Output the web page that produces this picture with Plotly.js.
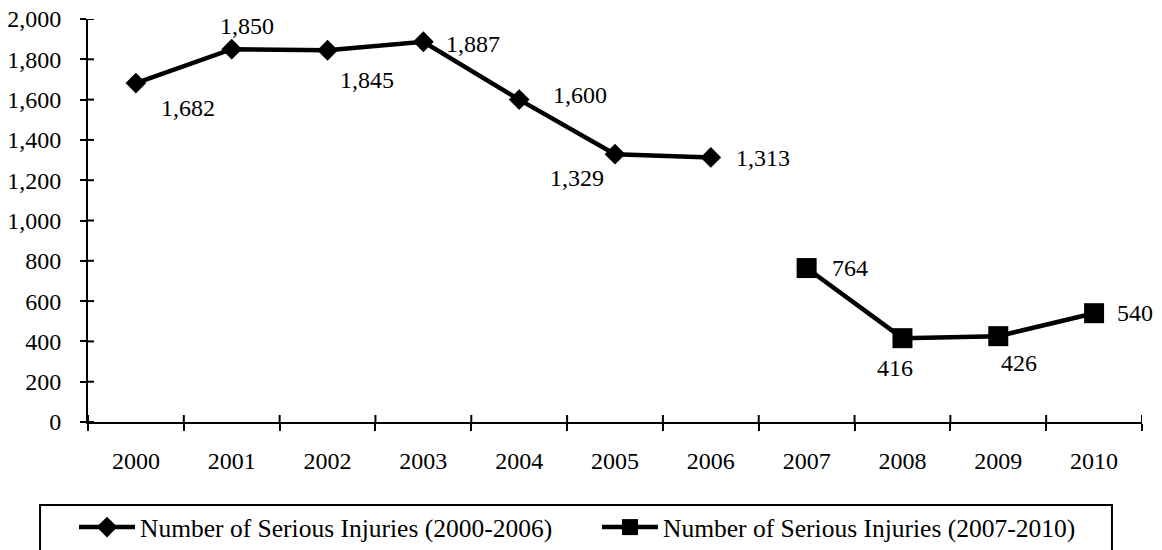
<!DOCTYPE html>
<html>
<head>
<meta charset="utf-8">
<script src="https://cdn.plot.ly/plotly-3.0.1.min.js"></script>
<style>html,body{margin:0;padding:0;background:#fff;}#chart{width:1162px;height:550px;}</style>
</head>
<body>
<div id="chart"></div>
<script>
const years = ['2000','2001','2002','2003','2004','2005','2006','2007','2008','2009','2010'];
const years1 = ['2000','2001','2002','2003','2004','2005','2006'];
const injuries1 = [1682, 1850, 1845, 1887, 1600, 1329, 1313];
const years2 = ['2007','2008','2009','2010'];
const injuries2 = [764, 416, 426, 540];
const name1 = 'Number of Serious Injuries (2000-2006)';
const name2 = 'Number of Serious Injuries (2007-2010)';
const yTicks = [0,200,400,600,800,1000,1200,1400,1600,1800,2000];

// label offsets (px) relative to each marker: [dx, dy(down)]
const offs1 = [[52,25],[15,-23],[39,30],[50,2],[61,-5],[-38,24],[52,1]];
const offs2 = [[43,0],[-7,30],[21,27],[41,0]];

const FONT = 'Liberation Serif, Times New Roman, serif';
const FS = 24;
const fmt = v => v.toLocaleString('en-US');

const traces = [
  {x: years1, y: injuries1, name: name1, type: 'scatter', mode: 'lines+markers',
   line: {color: '#000', width: 4.5}, marker: {symbol: 'diamond', size: 16, color: '#000'}},
  {x: years2, y: injuries2, name: name2, type: 'scatter', mode: 'lines+markers',
   line: {color: '#000', width: 4.5}, marker: {symbol: 'square', size: 20, color: '#000'}}
];

const annotations = [];
years1.forEach((yr, i) => annotations.push({x: years.indexOf(yr), y: injuries1[i], xref: 'x', yref: 'y', text: fmt(injuries1[i]), showarrow: false,
  xanchor: 'center', yanchor: 'middle', xshift: offs1[i][0], yshift: -offs1[i][1]}));
years2.forEach((yr, i) => annotations.push({x: years.indexOf(yr), y: injuries2[i], xref: 'x', yref: 'y', text: fmt(injuries2[i]), showarrow: false,
  xanchor: 'center', yanchor: 'middle', xshift: offs2[i][0], yshift: -offs2[i][1]}));

// inward halves of the crossing tick marks
const shapes = [];
for (let b = 0; b <= years.length; b++) {
  shapes.push({type: 'line', xref: 'x', yref: 'y', x0: b - 0.5, x1: b - 0.5,
    ysizemode: 'pixel', yanchor: 0, y0: 0, y1: 7, line: {color: '#000', width: 2}});
}
yTicks.forEach(v => shapes.push({type: 'line', xref: 'x', yref: 'y', y0: v, y1: v,
  xsizemode: 'pixel', xanchor: -0.5, x0: 0, x1: 6, line: {color: '#000', width: 2}}));
// legend frame
shapes.push({type: 'rect', xref: 'paper', yref: 'paper', x0: -0.0455, x1: 0.9715, y0: -0.206, y1: -0.33,
  line: {color: '#000', width: 2}, fillcolor: 'rgba(0,0,0,0)'});

const layout = {
  width: 1162, height: 550,
  margin: {l: 88, r: 20, t: 19, b: 128},
  paper_bgcolor: '#fff', plot_bgcolor: '#fff',
  font: {family: FONT, size: FS, color: '#000'},
  showlegend: true,
  xaxis: {type: 'category', categoryarray: years, categoryorder: 'array', range: [-0.5, 10.5],
    showline: true, linecolor: '#000', linewidth: 2, showgrid: false, zeroline: false,
    ticks: 'outside', tickson: 'boundaries', ticklen: 7, tickwidth: 2, tickcolor: '#000',
    ticklabelstandoff: 16, tickfont: {family: FONT, size: FS, color: '#000'}, fixedrange: true},
  yaxis: {range: [0, 2000], tickvals: yTicks, tickformat: ',d',
    showline: true, linecolor: '#000', linewidth: 2, showgrid: false, zeroline: false,
    ticks: 'outside', ticklen: 6, tickwidth: 2, tickcolor: '#000',
    ticklabelstandoff: 14, tickfont: {family: FONT, size: FS, color: '#000'}, fixedrange: true},
  legend: {orientation: 'h', x: 74 / 1162, xref: 'container', xanchor: 'left', y: 0.0836, yref: 'container', yanchor: 'top',
    borderwidth: 0, bgcolor: 'rgba(0,0,0,0)',
    itemwidth: 56, entrywidth: 452, font: {family: FONT, size: 25.5, color: '#000'}},
  annotations: annotations,
  shapes: shapes
};

Plotly.newPlot('chart', traces, layout, {displayModeBar: false, staticPlot: true});
</script>
</body>
</html>
